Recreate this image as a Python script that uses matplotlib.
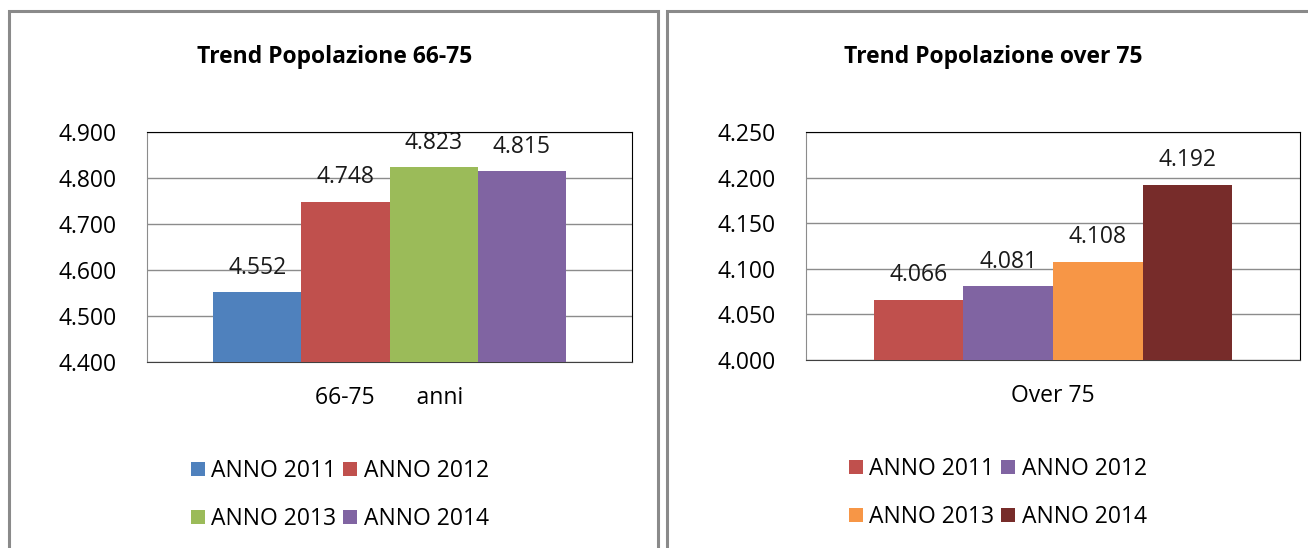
import matplotlib.pyplot as plt
from matplotlib.patches import Patch, Rectangle

plt.rcParams['font.family'] = ['Open Sans', 'DejaVu Sans']

# dati
serie = ['ANNO 2011', 'ANNO 2012', 'ANNO 2013', 'ANNO 2014']
valori_66_75 = [4.552, 4.748, 4.823, 4.815]
valori_over75 = [4.066, 4.081, 4.108, 4.192]
colori_66_75 = ['#4F81BD', '#C0504D', '#9BBB59', '#8064A2']
colori_over75 = ['#C0504D', '#8064A2', '#F79646', '#772C2A']
titoli = ['Trend Popolazione 66-75', 'Trend Popolazione over 75']
etichette_x = ['66-75       anni', 'Over 75']
ticks_66_75 = [4.400, 4.500, 4.600, 4.700, 4.800, 4.900]
ticks_over75 = [4.000, 4.050, 4.100, 4.150, 4.200, 4.250]

W, H = 1308, 548
fig = plt.figure(figsize=(W / 100, H / 100), dpi=100)


def px_rect(x0, y0, x1, y1):
    # converte pixel (origine in alto a sinistra) in frazioni della figura
    return [x0 / W, 1 - y1 / H, (x1 - x0) / W, (y1 - y0) / H]


# cornici dei due grafici
for x0, x1 in [(9, 658), (667, 1330)]:
    fig.patches.append(Rectangle((x0 / W, -0.1), (x1 - x0) / W, 1.1 - 11 / H,
                                 transform=fig.transFigure, fill=False,
                                 edgecolor='#8a8a8a', linewidth=2.2))

pannelli = [
    dict(box=(147, 132, 632, 362), valori=valori_66_75, colori=colori_66_75,
         ticks=ticks_66_75, titolo=titoli[0], tx=335, xl=etichette_x[0],
         leg=(340, 495)),
    dict(box=(806, 132, 1300, 360), valori=valori_over75, colori=colori_over75,
         ticks=ticks_over75, titolo=titoli[1], tx=993, xl=etichette_x[1],
         leg=(998, 493)),
]

w = 0.1815
ordine = [0, 2, 1, 3]  # la legenda va letta per righe
for p in pannelli:
    ax = fig.add_axes(px_rect(*p['box']))
    xs = [(i - 1.5) * w for i in range(len(p['valori']))]
    ax.bar(xs, p['valori'], width=w, color=p['colori'], zorder=3)
    for x, v in zip(xs, p['valori']):
        ax.annotate(f'{v:.3f}', (x, v), xytext=(0, 9), textcoords='offset points',
                    ha='center', va='bottom', fontsize=16.5, color='#1a1a1a')
    ax.set_xlim(-0.5, 0.5)
    ax.set_ylim(p['ticks'][0], p['ticks'][-1])
    ax.set_yticks(p['ticks'])
    ax.set_yticklabels([f'{t:.3f}' for t in p['ticks']])
    ax.tick_params(axis='y', length=0, pad=22, labelsize=16.5)
    ax.set_xticks([])
    ax.grid(axis='y', color='#8c8c8c', linewidth=1, zorder=0)
    ax.spines['top'].set_color('#000000')
    ax.spines['right'].set_color('#000000')
    ax.spines['left'].set_color('#8c8c8c')
    ax.spines['bottom'].set_color('#404040')
    ax.set_xlabel(p['xl'], fontsize=16.5, labelpad=17)

    fig.text(p['tx'] / W, 1 - 57 / H, p['titolo'], ha='center', va='center',
             fontsize=16.5, fontweight='bold')

    handles = [Patch(facecolor=c, edgecolor='none') for c in p['colori']]
    fig.legend([handles[i] for i in ordine], [serie[i] for i in ordine],
               loc='center', ncol=2, frameon=False,
               bbox_to_anchor=(p['leg'][0] / W, 1 - p['leg'][1] / H),
               bbox_transform=fig.transFigure, fontsize=16.5,
               handlelength=0.6, handleheight=0.6, handletextpad=0.3,
               columnspacing=0.3, labelspacing=1.05)

fig.savefig('out.png', dpi=100)
